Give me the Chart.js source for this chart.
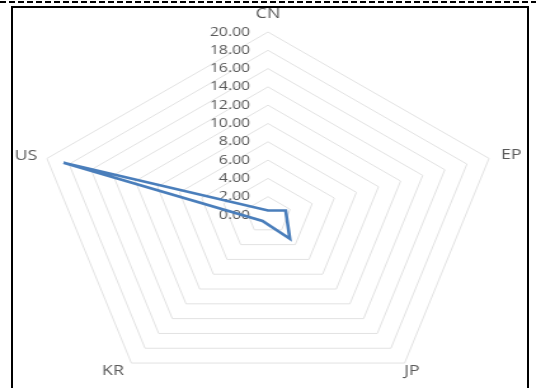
<!DOCTYPE html>
<html>
<head>
<meta charset="utf-8">
<script src="https://cdn.jsdelivr.net/npm/chart.js@4.4.1/dist/chart.umd.min.js"></script>
<style>
  html, body { margin: 0; padding: 0; width: 536px; height: 388px; overflow: hidden; background: #fff; }
  .dash { position: absolute; left: 0; top: 1px; width: 536px; height: 2px;
          background: repeating-linear-gradient(90deg, #000 0 6px, transparent 6px 9px); }
  .frame { position: absolute; left: 11px; top: 6px; width: 514px; height: 420px; border: 2px solid #000; }
  /* the original chart is stretched sideways, so draw it square and widen it */
  .stretch { position: absolute; left: 0; top: 0; transform: scaleX(1.27); transform-origin: 0 0; }
</style>
</head>
<body>
<div class="dash"></div>
<div class="frame"></div>
<div class="stretch"><canvas id="chart" width="422" height="398"></canvas></div>
<script>
const categories = ['CN', 'EP', 'JP', 'KR', 'US']
const seriesValues = [0.5, 1.6, 3.2, 0.8, 18.5]
const tickLabels = ['0.00', '2.00', '4.00', '6.00', '8.00', '10.00', '12.00', '14.00', '16.00', '18.00', '20.00']

// gap from outer ring + alignment for each category label (CN, EP, JP, KR, US)
const pointLabelLayout = [[17.5, 'center'], [10, 'left'], [10, 'center'], [10, 'right'], [8, 'right']]

const labelPlugin = {
  id: 'excelLabels',
  beforeDatasetsDraw(chart) {
    const scale = chart.scales.r
    const ctx = chart.ctx
    ctx.save()
    ctx.fillStyle = '#595959'
    ctx.textBaseline = 'middle'

    // value labels left of the vertical axis, 0.00 included
    ctx.font = '12.5px "Open Sans"'
    ctx.textAlign = 'right'
    for (let t of tickLabels) {
      let d = scale.getDistanceFromCenterForValue(parseFloat(t))
      ctx.fillText(t, scale.xCenter - 14, scale.yCenter - d)
    }

    // category labels
    ctx.font = '14px "Open Sans"'
    categories.forEach((c, i) => {
      let [gap, align] = pointLabelLayout[i]
      let p = scale.getPointPosition(i, scale.drawingArea + gap)
      ctx.textAlign = align
      ctx.fillText(c, p.x, p.y)
    })
    ctx.restore()
  }
}

const ctx = document.getElementById('chart').getContext('2d')
new Chart(ctx, {
  type: 'radar',
  data: {
    labels: categories,
    datasets: [{
      data: seriesValues,
      borderColor: '#4a7ebb',
      borderWidth: 2.6,
      pointRadius: 0,
      fill: false,
      tension: 0
    }]
  },
  options: {
    responsive: false,
    animation: false,
    devicePixelRatio: 1,
    layout: { padding: { top: 32 } },
    plugins: { legend: { display: false }, tooltip: { enabled: false } },
    scales: {
      r: {
        min: parseFloat(tickLabels[0]),
        max: parseFloat(tickLabels[tickLabels.length - 1]),
        ticks: { stepSize: 2, display: false },
        grid: { color: '#e2e2e2', lineWidth: 1 },
        angleLines: { display: false },
        pointLabels: { display: false }
      }
    }
  },
  plugins: [labelPlugin]
})
</script>
</body>
</html>
